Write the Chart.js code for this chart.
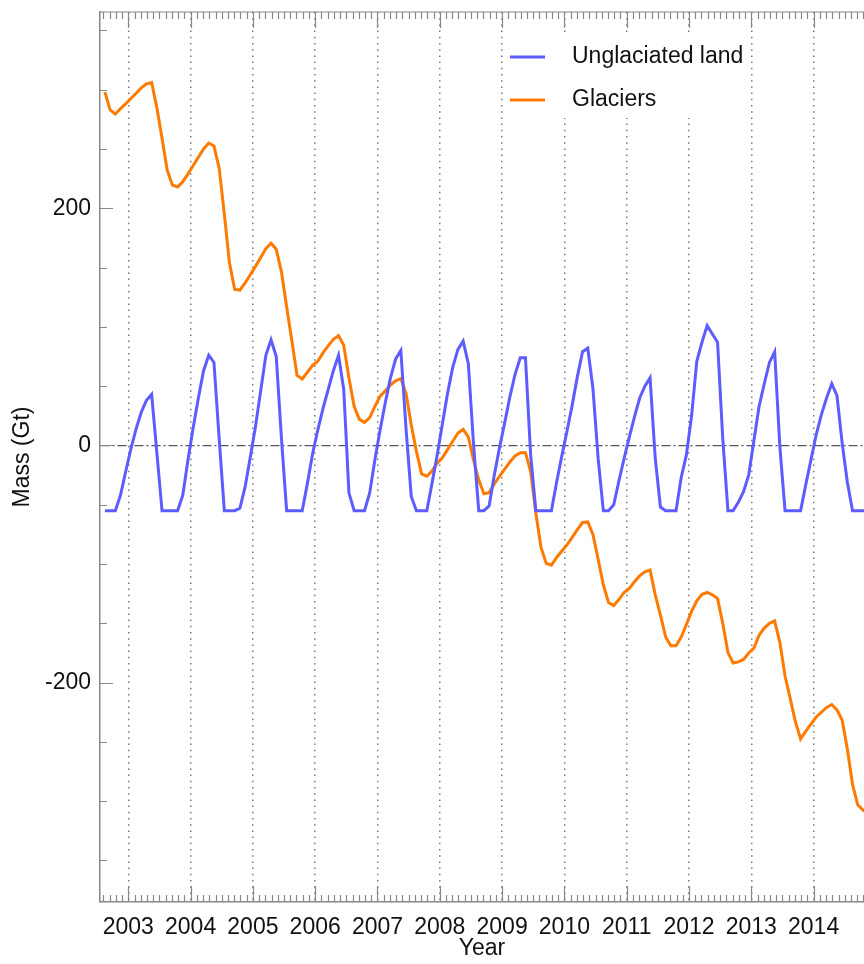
<!DOCTYPE html>
<html>
<head>
<meta charset="utf-8">
<script src="https://cdn.jsdelivr.net/npm/chart.js@4/dist/chart.umd.min.js"></script>
<style>
  html, body { margin: 0; padding: 0; background: #fff; overflow: hidden; }
  canvas { display: block; }
</style>
</head>
<body>
<canvas id="mass" width="864" height="964"></canvas>
<script>
// monthly series, first value is August 2002
const startYear = 2002;
const startMonth = 8;

const seriesNames = ["Unglaciated land", "Glaciers"];
const seriesColors = ["#5c5cff", "#ff7a00"];

const unglaciated = [
    -55, -55, -55, -42, -22,                                   // 2002
    -3, 14, 28, 38, 43, -6, -55, -55, -55, -55, -42, -12,      // 2003
    15, 40, 63, 76, 70, 6, -55, -55, -55, -53, -35, -10,       // 2004
    16, 46, 76, 89, 75, 6, -55, -55, -55, -55, -32, -7,        // 2005
    13, 31, 47, 63, 76, 47, -40, -55, -55, -55, -40, -12,      // 2006
    13, 36, 57, 73, 80, 14, -43, -55, -55, -55, -32, -8,       // 2007
    18, 44, 66, 81, 88, 69, 1, -55, -55, -51, -25, -2,         // 2008
    19, 41, 60, 74, 74, -8, -55, -55, -55, -55, -31, -9,       // 2009
    12, 34, 58, 79, 82, 48, -11, -55, -55, -50, -30, -11,      // 2010
    7, 24, 40, 50, 57, -11, -52, -55, -55, -55, -27, -8,       // 2011
    25, 71, 87, 101, 94, 87, 6, -55, -55, -48, -39, -25,       // 2012
    4, 33, 52, 70, 79, -1, -55, -55, -55, -55, -33, -12,       // 2013
    9, 26, 40, 52, 42, 2, -31, -55, -55, -55, -55              // 2014
];

const glaciers = [
    298, 283, 279.5, 284, 288,                                              // 2002
    292.5, 297, 301.5, 304.8, 306, 285, 259, 232, 219.5, 218, 222.4, 229,   // 2003
    236, 243, 250, 255, 252.5, 234, 195, 153.6, 131.5, 131, 137, 144,       // 2004
    151, 158.5, 166, 170.5, 165.4, 146.5, 117, 88.5, 59, 56, 61.7, 67.5,    // 2005
    71, 78, 84, 89.5, 92.5, 84.5, 57, 33, 22, 19.5, 23.5, 33,               // 2006
    41.5, 46, 51, 54.5, 56.5, 44, 17.4, -5, -24, -26, -21.5, -15,           // 2007
    -10.5, -3.5, 3.5, 10.5, 13.5, 7, -12.5, -29, -40.8, -39.8, -32.5, -26,  // 2008
    -20, -14, -8.8, -6.1, -6.1, -22, -57, -86, -99.5, -101, -94.5, -89,     // 2009
    -83.8, -77.5, -71, -65, -64.5, -75, -96, -117.5, -132.5, -135, -130, -124, // 2010
    -120.5, -115, -110, -106.5, -105, -126, -143, -161.5, -169, -169, -161.5, -151, // 2011
    -140, -131, -125.5, -124, -126, -129, -150, -174.5, -183.5, -182.5, -180.5, -175, // 2012
    -171, -160, -154, -150, -148, -166, -194.5, -213.5, -233, -247.5, -241, -235, // 2013
    -229, -225, -221, -218.5, -223, -231.5, -256, -286, -303, -307.5, -310  // 2014
];

const fontFamily = '"Liberation Sans", Arial, Helvetica, sans-serif';
const axisGray = "#888";

//pongo cada valor en la mitad de su mes
function toPoints(values) {
    return values.map((v, i) => ({ x: startYear + (startMonth - 0.5 + i) / 12, y: v }));
}

// small inward ticks (bottom, top, left) plus the top frame line
const innerTicks = {
    id: "innerTicks",
    beforeDatasetsDraw(chart) {
        const { ctx, chartArea: a, scales: { x, y } } = chart;
        ctx.save();
        ctx.strokeStyle = axisGray;
        ctx.lineWidth = 1.2;
        ctx.beginPath();
        ctx.moveTo(a.left, a.top);
        ctx.lineTo(a.right, a.top);
        for (let k = Math.ceil(x.min * 10); k <= Math.floor(x.max * 10); k++) {
            const px = Math.round(x.getPixelForValue(k / 10)) + 0.5;
            const len = k % 10 === 0 ? 16 : 7;
            ctx.moveTo(px, a.bottom);
            ctx.lineTo(px, a.bottom - len);
            ctx.moveTo(px, a.top);
            ctx.lineTo(px, a.top + len);
        }
        for (let k = Math.ceil(y.min / 50); k <= Math.floor(y.max / 50); k++) {
            const py = Math.round(y.getPixelForValue(k * 50)) + 0.5;
            const len = k % 4 === 0 ? 13 : 7;
            ctx.moveTo(a.left, py);
            ctx.lineTo(a.left + len, py);
        }
        ctx.stroke();
        ctx.restore();
    }
};

// legend sitting inside the plot, on a white patch
const insideLegend = {
    id: "insideLegend",
    afterDatasetsDraw(chart) {
        const { ctx, chartArea } = chart;
        const x0 = chartArea.left + 410;
        const y0 = chartArea.top + 45;
        const rowGap = 43;
        ctx.save();
        ctx.fillStyle = "#fff";
        ctx.fillRect(x0 - 6, y0 - 24, 244, rowGap + 42);
        ctx.font = "23px " + fontFamily;
        ctx.textBaseline = "middle";
        chart.data.datasets.forEach((ds, i) => {
            const yy = y0 + i * rowGap;
            ctx.strokeStyle = ds.borderColor;
            ctx.lineWidth = 3;
            ctx.beginPath();
            ctx.moveTo(x0, yy);
            ctx.lineTo(x0 + 35, yy);
            ctx.stroke();
            ctx.fillStyle = "#111";
            ctx.fillText(ds.label, x0 + 62, yy);
        });
        ctx.restore();
    }
};

new Chart(document.getElementById("mass").getContext("2d"), {
    type: "line",
    data: {
        datasets: [
            {
                label: seriesNames[0],
                data: toPoints(unglaciated),
                borderColor: seriesColors[0],
                borderWidth: 3,
                pointRadius: 0,
                tension: 0,
                fill: false
            },
            {
                label: seriesNames[1],
                data: toPoints(glaciers),
                borderColor: seriesColors[1],
                borderWidth: 3,
                pointRadius: 0,
                tension: 0,
                fill: false
            }
        ]
    },
    options: {
        responsive: false,
        animation: false,
        layout: { padding: { top: 12, right: 0, bottom: 0, left: 0 } },
        plugins: {
            legend: { display: false },
            tooltip: { enabled: false }
        },
        scales: {
            x: {
                type: "linear",
                min: 2002.546,
                max: 2014.809,
                afterFit: (s) => {
                    s.height = 62;
                    s.paddingLeft = 0;
                    s.paddingRight = 0;
                },
                ticks: {
                    stepSize: 1,
                    includeBounds: false,
                    autoSkip: false,
                    maxRotation: 0,
                    padding: 12,
                    color: "#111",
                    font: { family: fontFamily, size: 23 },
                    callback: (v) => String(v)
                },
                grid: { color: "#7a7a7a", lineWidth: 1.5, drawTicks: false },
                border: { color: axisGray, width: 1.5, dash: [1.5, 4.7] },
                title: {
                    display: true,
                    text: "Year",
                    color: "#111",
                    font: { family: fontFamily, size: 23 },
                    padding: { top: 0, bottom: 2 }
                }
            },
            y: {
                min: -385,
                max: 365.5,
                afterFit: (s) => {
                    s.width = 100;
                    s.paddingTop = 0;
                    s.paddingBottom = 0;
                },
                ticks: {
                    stepSize: 200,
                    includeBounds: false,
                    padding: 9,
                    color: "#111",
                    font: { family: fontFamily, size: 23 },
                    callback: (v) => String(v)
                },
                grid: {
                    drawTicks: false,
                    lineWidth: 1.2,
                    color: (c) => (c.tick && c.tick.value === 0 ? "#555" : "rgba(0,0,0,0)")
                },
                border: { color: axisGray, width: 1.5, dash: [9, 3, 2, 3] },
                title: {
                    display: true,
                    text: "Mass (Gt)",
                    color: "#111",
                    font: { family: fontFamily, size: 23 },
                    padding: { top: 9, bottom: 0 }
                }
            }
        }
    },
    plugins: [innerTicks, insideLegend]
});
</script>
</body>
</html>
